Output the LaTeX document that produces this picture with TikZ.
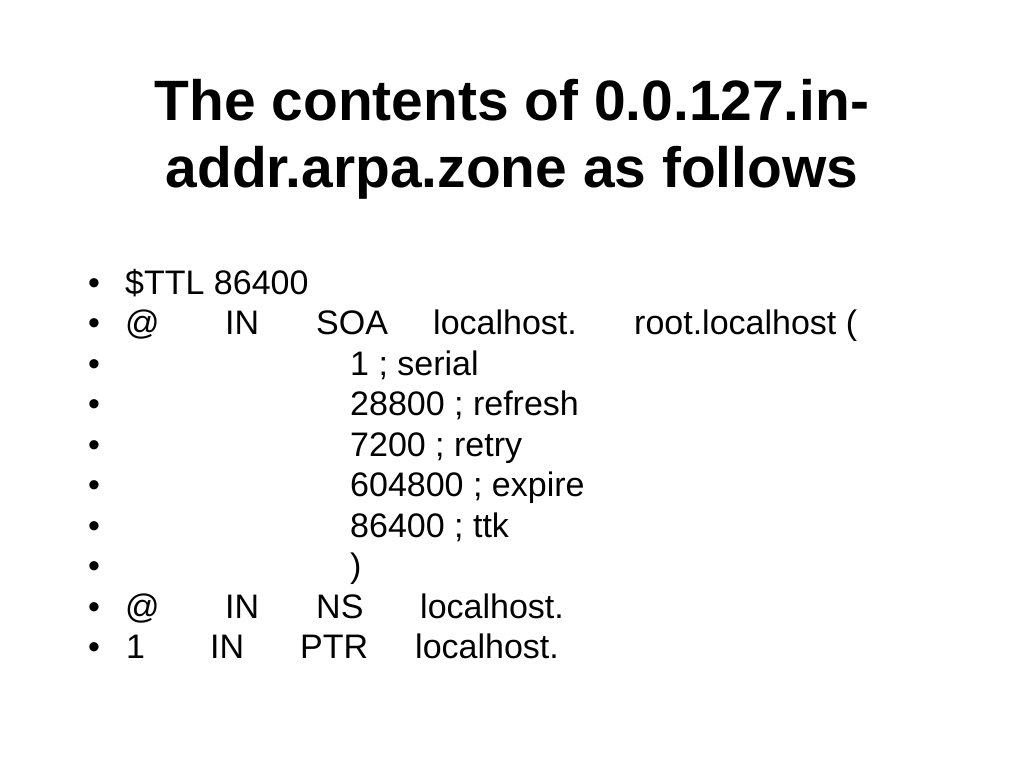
\documentclass[tikz,border=0pt]{standalone}
\usepackage{fontspec}
\setmainfont{Liberation Sans}

\tikzset{
  slidetitle/.style={font=\fontsize{56.9}{67}\selectfont\bfseries, anchor=base, inner sep=0pt},
  rec/.style={font=\fontsize{34}{40.5}\selectfont, anchor=base west, inner sep=0pt},
}

\begin{document}
\begin{tikzpicture}[x=1pt, y=-1pt]
\useasboundingbox (0,0) rectangle (1024,768);

\node[slidetitle] (head1) at (512,120) {The contents of 0.0.127.in-};
\node[slidetitle] (head2) at (512,187) {addr.arpa.zone as follows};

\foreach \i in {0,...,9}
  \node[rec] (dot\i) at (88,{294+40.5*\i}) {•};

\node[rec] (ttl) at (125,294) {\$TTL 86400};

\node[rec] (soaat)   at (125,334.5) {@};
\node[rec] (soain)   at (225,334.5) {IN};
\node[rec] (soa)     at (316,334.5) {SOA};
\node[rec] (soahost) at (433,334.5) {localhost.};
\node[rec] (soaroot) at (634,334.5) {root.localhost (};

\node[rec] (serial)  at (350,375)   {1 ; serial};
\node[rec] (refresh) at (350,415.5) {28800 ; refresh};
\node[rec] (retry)   at (350,456)   {7200 ; retry};
\node[rec] (expire)  at (350,496.5) {604800 ; expire};
\node[rec] (ttk)     at (350,537)   {86400 ; ttk};
\node[rec] (close)   at (350,577.5) {)};

\node[rec] (nsat)    at (125,618) {@};
\node[rec] (nsin)    at (225,618) {IN};
\node[rec] (ns)      at (316,618) {NS};
\node[rec] (nshost)  at (420,618) {localhost.};

\node[rec] (ptrone)  at (126,658.5) {1};
\node[rec] (ptrin)   at (210,658.5) {IN};
\node[rec] (ptr)     at (300,658.5) {PTR};
\node[rec] (ptrhost) at (415,658.5) {localhost.};

\end{tikzpicture}
\end{document}
